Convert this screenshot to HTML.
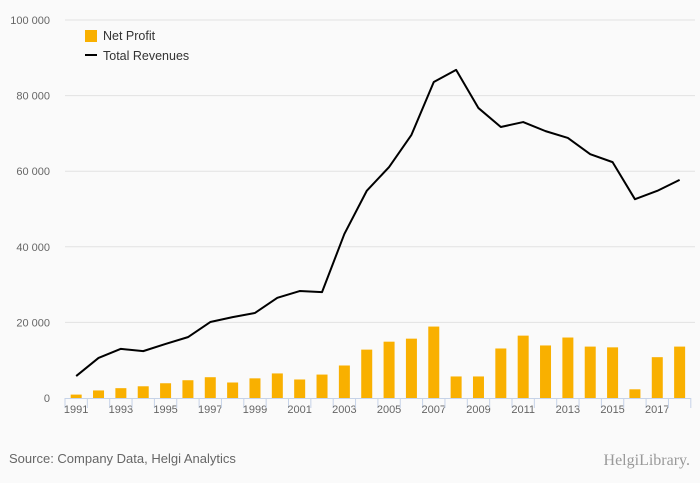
<!DOCTYPE html>
<html><head><meta charset="utf-8"><style>
body{margin:0;background:#fafafa;}
svg{display:block;font-family:"Liberation Sans",sans-serif;}
</style></head><body>
<svg id="chart" width="700" height="483">
<rect width="700" height="483" fill="#fafafa"/>
<g id="grid"></g><g id="bars"></g><g id="line"></g><g id="xaxis"></g>
<g>
<rect x="85" y="30" width="12" height="12" fill="#f9b000"/>
<text x="103" y="40" font-size="12.5" fill="#333">Net Profit</text>
<rect x="85" y="54" width="12" height="2" fill="#000"/>
<text x="103" y="60" font-size="12.5" fill="#333">Total Revenues</text>
</g>
<text x="9" y="463" font-size="13" fill="#666">Source: Company Data, Helgi Analytics</text>
<text x="690" y="465" font-size="16" fill="#999" text-anchor="end" font-family="Liberation Serif,serif">HelgiLibrary.</text>
</svg>
<script>
const years=[1991,1992,1993,1994,1995,1996,1997,1998,1999,2000,2001,2002,2003,2004,2005,2006,2007,2008,2009,2010,2011,2012,2013,2014,2015,2016,2017,2018];
const netProfit=[900,2000,2600,3100,3900,4700,5500,4100,5200,6500,4900,6200,8600,12800,14900,15700,18900,5700,5700,13100,16500,13900,16000,13600,13400,2300,10800,13600];
const revenues=[5800,10600,13000,12400,14300,16100,20100,21400,22500,26500,28300,28000,43400,54800,61100,69600,83600,86800,76700,71700,73000,70600,68800,64500,62400,52600,54800,57700];
const yTicks=[0,20000,40000,60000,80000,100000];
const yTickLabels=["0","20 000","40 000","60 000","80 000","100 000"];
const NS="http://www.w3.org/2000/svg";
const x0=65,slot=22.35,y0=398,yTop=20;
const y=v=>y0-(v/100000)*(y0-yTop);
const xc=i=>x0+slot*(i+0.5);
function mk(t,a,p){const e=document.createElementNS(NS,t);for(const k in a)e.setAttribute(k,a[k]);p.appendChild(e);return e;}
const grid=document.getElementById('grid');
yTicks.forEach((v,i)=>{
 if(v>0){const l=mk('line',{x1:x0,x2:695,y1:y(v),y2:y(v),stroke:'#e2e2e2','stroke-width':1},grid);
 
 }
 const t=mk('text',{x:50,y:y(v)+4,'font-size':11,fill:'#666','text-anchor':'end'},grid);
 t.textContent=yTickLabels[i];
 
 
});
const bars=document.getElementById('bars');
netProfit.forEach((v,i)=>{
 const r=mk('rect',{x:xc(i)-5.5,y:y(v),width:11,height:y0-y(v),fill:'#f9b000'},bars);
 
 
});
const p=mk('polyline',{points:revenues.map((v,i)=>xc(i)+','+y(v)).join(' '),fill:'none',stroke:'#000','stroke-width':2,'stroke-linejoin':'round'},document.getElementById('line'));


const xa=document.getElementById('xaxis');
const ax=mk('line',{x1:x0,x2:x0+slot*years.length,y1:y0+0.5,y2:y0+0.5,stroke:'#c6d3e8','stroke-width':1},xa);


years.forEach((yr,i)=>{
 const tk=mk('line',{x1:x0+slot*i,x2:x0+slot*i,y1:y0,y2:y0+10,stroke:'#c6d3e8'},xa);
 
 
 if(i%2===0){const t=mk('text',{x:xc(i),y:y0+15,'font-size':11,fill:'#666','text-anchor':'middle'},xa);
 t.textContent=yr;
 
 }
});
const tk=mk('line',{x1:x0+slot*years.length,x2:x0+slot*years.length,y1:y0,y2:y0+10,stroke:'#c6d3e8'},xa);


</script>
</body></html>
